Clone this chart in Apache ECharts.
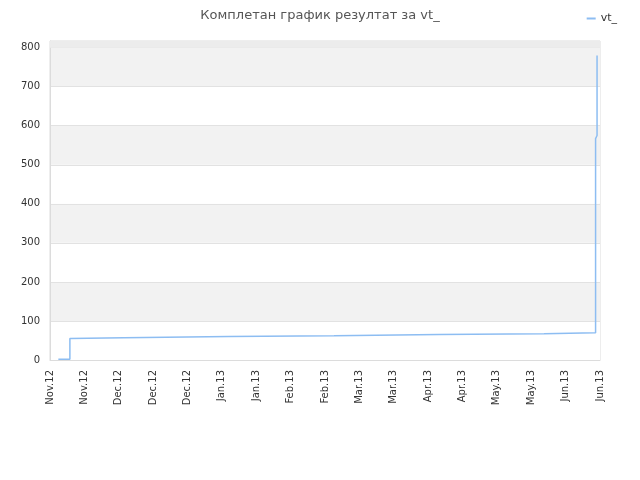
<!DOCTYPE html>
<html>
<head>
<meta charset="utf-8">
<script src="https://cdn.jsdelivr.net/npm/echarts@6/dist/echarts.min.js"></script>
<style>
  html, body { margin: 0; padding: 0; background: #fff; }
  #chart { width: 640px; height: 480px; }
</style>
</head>
<body>
<div id="chart"></div>
<script>
// x labels, one every 14 days
var tickLabels = ['Nov.12', 'Nov.12', 'Dec.12', 'Dec.12', 'Dec.12', 'Jan.13', 'Jan.13',
    'Feb.13', 'Feb.13', 'Mar.13', 'Mar.13', 'Apr.13', 'Apr.13', 'May.13', 'May.13',
    'Jun.13', 'Jun.13'];

// days since first tick, and result at that moment
var days = [3.4, 8.1, 8.1, 8.1, 8.1, 8.6, 30.1, 72.9, 115.7, 158.4, 201.2,
    222.2, 222.2, 222.2, 222.2, 222.8, 222.8, 222.8, 222.8, 222.8, 222.8, 222.8, 222.8];
var results = [2, 18, 26, 34, 55, 57, 60, 62, 65, 67, 70,
    85, 118, 550, 567, 575, 586, 598, 624, 650, 682, 742, 780];

var seriesName = 'vt_';

var lineData = days.map(function (d, i) { return [d, results[i]]; });

var myChart = echarts.init(document.getElementById('chart'));

var option = {
    animation: false,
    textStyle: { fontFamily: 'DejaVu Sans' },
    title: {
        text: 'Комплетан график резултат за ' + seriesName,
        left: 'center',
        top: 4,
        textStyle: { fontSize: 13, fontWeight: 'normal', color: '#555' }
    },
    legend: {
        data: [seriesName],
        right: 18,
        top: 8,
        icon: 'rect',
        itemWidth: 9,
        itemHeight: 2,
        itemGap: 6,
        textStyle: { fontSize: 11, color: '#333' }
    },
    grid: {
        left: 50,
        right: 40,
        top: 41,
        bottom: 120,
        show: true,
        borderColor: '#dcdcdc',
        borderWidth: 1
    },
    xAxis: {
        type: 'value',
        min: 0,
        max: 224,
        interval: 14,
        axisLine: { show: true, lineStyle: { color: '#dcdcdc' } },
        axisTick: { show: false },
        splitLine: { show: false },
        axisLabel: {
            rotate: 90,
            margin: 10,
            fontSize: 10,
            color: '#333',
            formatter: function (v) { return tickLabels[Math.round(v / 14)]; }
        }
    },
    yAxis: {
        type: 'value',
        min: 0,
        max: 817,
        interval: 100,
        axisLine: { show: true, lineStyle: { color: '#dcdcdc' } },
        axisTick: { show: false },
        axisLabel: { fontSize: 10, color: '#333', margin: 10, showMaxLabel: false },
        splitLine: { lineStyle: { color: '#e2e2e2' } },
        splitArea: { show: true, areaStyle: { color: ['#ffffff', '#f2f2f2'] } }
    },
    series: [
        {
            name: seriesName,
            type: 'line',
            step: 'end',
            showSymbol: false,
            data: lineData,
            lineStyle: { color: '#8dbdf2', width: 1.5 },
            itemStyle: { color: '#8dbdf2' },
            markArea: {
                silent: true,
                itemStyle: { color: '#ececec' },
                data: [[{ yAxis: 800 }, { yAxis: 817 }]]
            }
        }
    ]
};

myChart.setOption(option);
</script>
</body>
</html>
